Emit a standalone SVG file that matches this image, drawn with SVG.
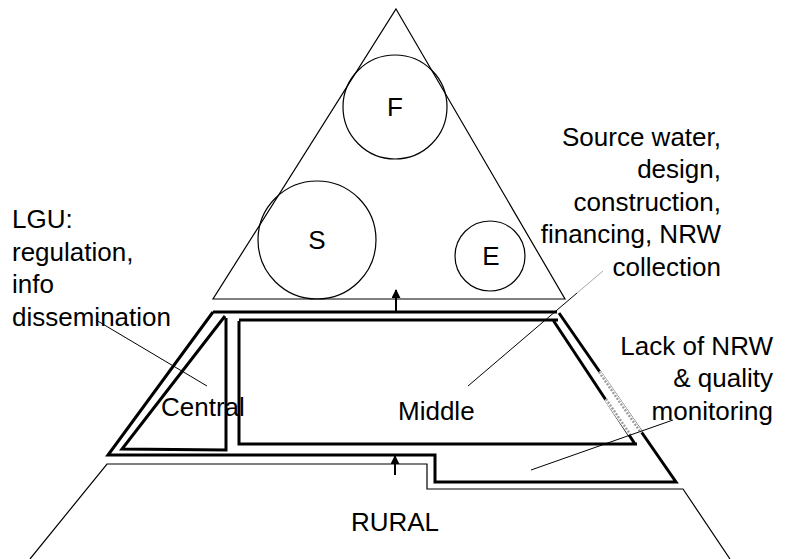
<svg xmlns="http://www.w3.org/2000/svg" width="787" height="559" viewBox="0 0 787 559">
  <style>
    .txt { font-family: "Liberation Sans", Arial, sans-serif; font-size: 26px; fill: #000; }
    .thin { fill: none; stroke: #000; stroke-width: 1.2; }
    .thick { fill: none; stroke: #000; stroke-width: 3; stroke-linejoin: miter; }
    .lead { fill: none; stroke: #000; stroke-width: 1; }
    .dash { fill: none; stroke: #9a9a9a; stroke-width: 2.4; stroke-dasharray: 2 1.5; }
  </style>
  <defs>
    <marker id="arrow" viewBox="0 0 10 10" refX="9" refY="5" markerWidth="4.5" markerHeight="4.5" markerUnits="strokeWidth" orient="auto">
      <path d="M0,0 L10,5 L0,10 Z" fill="#000"/>
    </marker>
  </defs>
  <rect width="787" height="559" fill="#fff"/>

  <!-- top triangle with F, S, E circles -->
  <g id="top">
    <path class="thin" d="M396,9 L565,299 L213,299 Z"/>
  </g>
  <g id="node-f">
    <circle class="thin" cx="395" cy="107" r="52"/>
    <text class="txt" x="395" y="116" text-anchor="middle">F</text>
  </g>
  <g id="node-s">
    <circle class="thin" cx="317" cy="240" r="59"/>
    <text class="txt" x="317" y="249" text-anchor="middle">S</text>
  </g>
  <g id="node-e">
    <circle class="thin" cx="490" cy="256" r="35"/>
    <text class="txt" x="491" y="265" text-anchor="middle">E</text>
  </g>

  <!-- middle band: outer outline -->
  <g id="band">
    <path class="thick" d="M213,312 L557,312 M559,313 L676,482 L435,482 L435,455 L108,455 L213,312"/>
    <!-- faded stretch of the right edge -->
    <line x1="599" y1="372" x2="641" y2="433" stroke="#fff" stroke-width="4"/>
    <line class="dash" x1="599" y1="372" x2="641" y2="433"/>
  </g>

  <!-- central region -->
  <g id="node-central">
    <path class="thick" d="M225,316 L122,449 L226,450 L226,318"/>
    <text class="txt" x="161" y="416">Central</text>
  </g>

  <!-- middle region -->
  <g id="node-middle">
    <path class="thick" d="M239,321 L239,444 L637,444 M635,444 L553,320 M558,320 L239,320"/>
    <line x1="606" y1="399" x2="630" y2="434" stroke="#fff" stroke-width="4"/>
    <line class="dash" x1="606" y1="399" x2="630" y2="434"/>
    <text class="txt" x="398" y="420">Middle</text>
  </g>

  <!-- rural base -->
  <g id="node-rural">
    <path class="thin" d="M30,559 L107,464 L427,464 L427,489 L683,489 L730,559"/>
    <text class="txt" x="395" y="531" text-anchor="middle">RURAL</text>
  </g>

  <!-- labels -->
  <g id="label-lgu">
    <text class="txt" x="12" y="228">LGU:</text>
    <text class="txt" x="12" y="261">regulation,</text>
    <text class="txt" x="12" y="293">info</text>
    <text class="txt" x="12" y="326">dissemination</text>
  </g>
  <g id="label-source" text-anchor="end">
    <text class="txt" x="721" y="146">Source water,</text>
    <text class="txt" x="721" y="178">design,</text>
    <text class="txt" x="721" y="211">construction,</text>
    <text class="txt" x="721" y="243">financing, NRW</text>
    <text class="txt" x="721" y="276">collection</text>
  </g>
  <g id="label-lack" text-anchor="end">
    <text class="txt" x="773" y="355">Lack of NRW</text>
    <text class="txt" x="773" y="387">&amp; quality</text>
    <text class="txt" x="773" y="420">monitoring</text>
  </g>

  <!-- connectors: arrows and label leaders -->
  <g id="connectors">
    <line x1="396" y1="312" x2="396" y2="290" stroke="#000" stroke-width="2" marker-end="url(#arrow)"/>
    <line x1="395" y1="475" x2="395" y2="456" stroke="#000" stroke-width="2" marker-end="url(#arrow)"/>
    <line class="lead" x1="96" y1="320" x2="207" y2="386"/>
    <line class="lead" x1="468" y1="386" x2="577" y2="293"/>
    <line x1="577" y1="293" x2="603" y2="271" stroke="#aaa" stroke-width="1"/>
    <line class="lead" x1="531" y1="470" x2="673" y2="420"/>
  </g>
</svg>
